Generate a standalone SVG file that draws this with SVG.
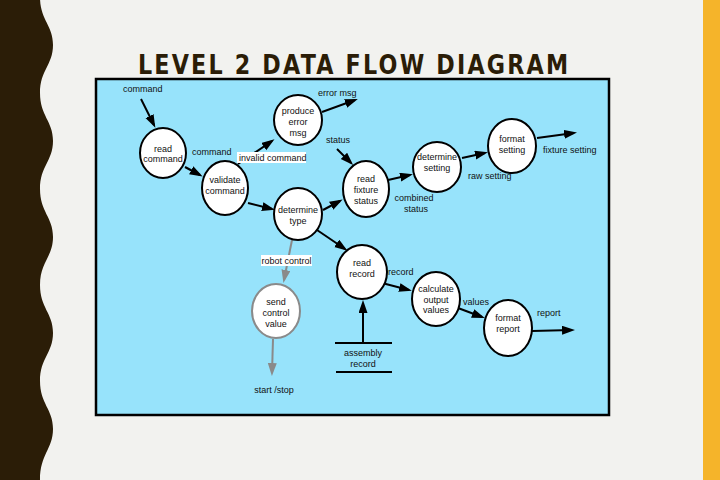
<svg xmlns="http://www.w3.org/2000/svg" width="720" height="480" viewBox="0 0 720 480">
<style>
.t{font-family:"Liberation Sans",Arial,sans-serif;font-size:9px;fill:#111;text-anchor:middle}
.tl{font-family:"Liberation Sans",Arial,sans-serif;font-size:9px;fill:#111}
.n{fill:#fff;stroke:#000;stroke-width:2}
.c{stroke:#000;stroke-width:2;fill:none;marker-end:url(#ah)}
.g{stroke:#8a8a8a;stroke-width:2;fill:none;marker-end:url(#ahg)}
</style>
<defs>
<marker id="ah" markerUnits="userSpaceOnUse" markerWidth="14" markerHeight="10" refX="10" refY="4.5" orient="auto"><path d="M0,0 L13,4.5 L0,9 z" fill="#000"/></marker>
<marker id="ahg" markerUnits="userSpaceOnUse" markerWidth="14" markerHeight="10" refX="10" refY="4.5" orient="auto"><path d="M0,0 L13,4.5 L0,9 z" fill="#8a8a8a"/></marker>
</defs>
<rect width="720" height="480" fill="#f2f2ef"/>
<path d="M0,0 L40,-3 C40,20 53,25 53,45 C53,65 40,70 40,93 C40,116 53,121 53,141 C53,161 40,166 40,189 C40,212 53,217 53,237 C53,257 40,262 40,285 C40,308 53,313 53,333 C53,353 40,358 40,381 C40,404 53,409 53,429 C53,449 40,454 40,480 L0,480 z" fill="#2b1d07"/>
<rect x="703" y="0" width="17" height="480" fill="#f5b42a"/>
<text transform="translate(138,74) scale(0.84,1)" x="0" y="0" font-family="'DejaVu Sans','Liberation Sans',sans-serif" font-weight="bold" font-size="26.5" fill="#2b1d07" textLength="512" lengthAdjust="spacing">LEVEL 2 DATA FLOW DIAGRAM</text>
<rect x="96" y="79" width="513" height="336" fill="#97e3fb" stroke="#000" stroke-width="2.5"/>

<g id="connectors">
<line class="c" x1="141" y1="99" x2="154" y2="125"/>
<line class="c" x1="185" y1="167" x2="200" y2="175"/>
<line class="c" x1="238" y1="164" x2="272" y2="141"/>
<line class="c" x1="248" y1="203" x2="272" y2="209"/>
<line class="c" x1="322" y1="112" x2="355" y2="100"/>
<line class="c" x1="337" y1="149" x2="351" y2="163"/>
<line class="c" x1="323" y1="210" x2="340" y2="201"/>
<line class="c" x1="388" y1="180" x2="410" y2="175"/>
<line class="c" x1="462" y1="158" x2="485" y2="153"/>
<line class="c" x1="537" y1="138" x2="574" y2="133"/>
<line class="c" x1="317" y1="230" x2="345" y2="249"/>
<line class="c" x1="382" y1="283" x2="409" y2="290"/>
<line class="c" x1="458" y1="308" x2="482" y2="317"/>
<line class="c" x1="532" y1="331" x2="572" y2="330"/>
<line class="c" x1="363" y1="343" x2="363" y2="303"/>
<line class="g" x1="292" y1="240" x2="284" y2="280"/>
<line class="g" x1="273" y1="339" x2="272" y2="373"/>
</g>

<g id="labels">
<text class="tl" x="123" y="92">command</text>
<text class="tl" x="192" y="155">command</text>
<rect x="237" y="152" width="69" height="11" fill="#fff"/>
<text class="tl" x="239" y="160.5">invalid command</text>
<text class="tl" x="318" y="96">error msg</text>
<text class="tl" x="326" y="143">status</text>
<text class="t" x="414" y="201">combined</text>
<text class="t" x="416" y="211.5">status</text>
<text class="tl" x="468" y="179">raw setting</text>
<text class="tl" x="543" y="153">fixture setting</text>
<rect x="261" y="255" width="51" height="11" fill="#fff"/>
<text class="t" x="286.5" y="263.5">robot control</text>
<text class="tl" x="388" y="275">record</text>
<text class="tl" x="463" y="305">values</text>
<text class="tl" x="537" y="316">report</text>
<text class="t" x="274" y="393">start /stop</text>
</g>

<g id="read-command"><ellipse class="n" cx="163" cy="153" rx="23" ry="25"/><text class="t" x="163" y="152">read</text><text class="t" x="163" y="162">command</text></g>
<g id="validate-command"><ellipse class="n" cx="225" cy="188" rx="23" ry="27"/><text class="t" x="225" y="183">validate</text><text class="t" x="225" y="194">command</text></g>
<g id="produce-error-msg"><ellipse class="n" cx="298" cy="120" rx="24" ry="25"/><text class="t" x="298" y="114">produce</text><text class="t" x="298" y="124.5">error</text><text class="t" x="298" y="135.5">msg</text></g>
<g id="determine-type"><ellipse class="n" cx="298" cy="214" rx="24" ry="26"/><text class="t" x="298" y="213">determine</text><text class="t" x="298" y="224">type</text></g>
<g id="read-fixture-status"><ellipse class="n" cx="366" cy="189" rx="23" ry="28"/><text class="t" x="366" y="182">read</text><text class="t" x="366" y="193">fixture</text><text class="t" x="366" y="204">status</text></g>
<g id="determine-setting"><ellipse class="n" cx="437" cy="167" rx="24" ry="25"/><text class="t" x="437" y="160">determine</text><text class="t" x="437" y="171">setting</text></g>
<g id="format-setting"><ellipse class="n" cx="512" cy="146" rx="24" ry="27"/><text class="t" x="512" y="142">format</text><text class="t" x="512" y="153">setting</text></g>
<g id="send-control-value"><ellipse cx="276" cy="311" rx="24" ry="27" fill="#fff" stroke="#8a8a8a" stroke-width="2"/><text class="t" x="276" y="305">send</text><text class="t" x="276" y="316">control</text><text class="t" x="276" y="326.5">value</text></g>
<g id="read-record"><ellipse class="n" cx="362" cy="272" rx="25" ry="27"/><text class="t" x="362" y="266">read</text><text class="t" x="362" y="277">record</text></g>
<g id="calculate-output-values"><ellipse class="n" cx="436" cy="299" rx="24" ry="27"/><text class="t" x="436" y="292">calculate</text><text class="t" x="436" y="302.5">output</text><text class="t" x="436" y="313">values</text></g>
<g id="format-report"><ellipse class="n" cx="508" cy="328" rx="24" ry="28"/><text class="t" x="508" y="321">format</text><text class="t" x="508" y="331.5">report</text></g>
<g id="assembly-record"><line x1="335" y1="343" x2="392" y2="343" stroke="#000" stroke-width="2"/><line x1="336" y1="372" x2="392" y2="372" stroke="#000" stroke-width="2"/><text class="t" x="363" y="356">assembly</text><text class="t" x="363" y="366.5">record</text></g>
</svg>
